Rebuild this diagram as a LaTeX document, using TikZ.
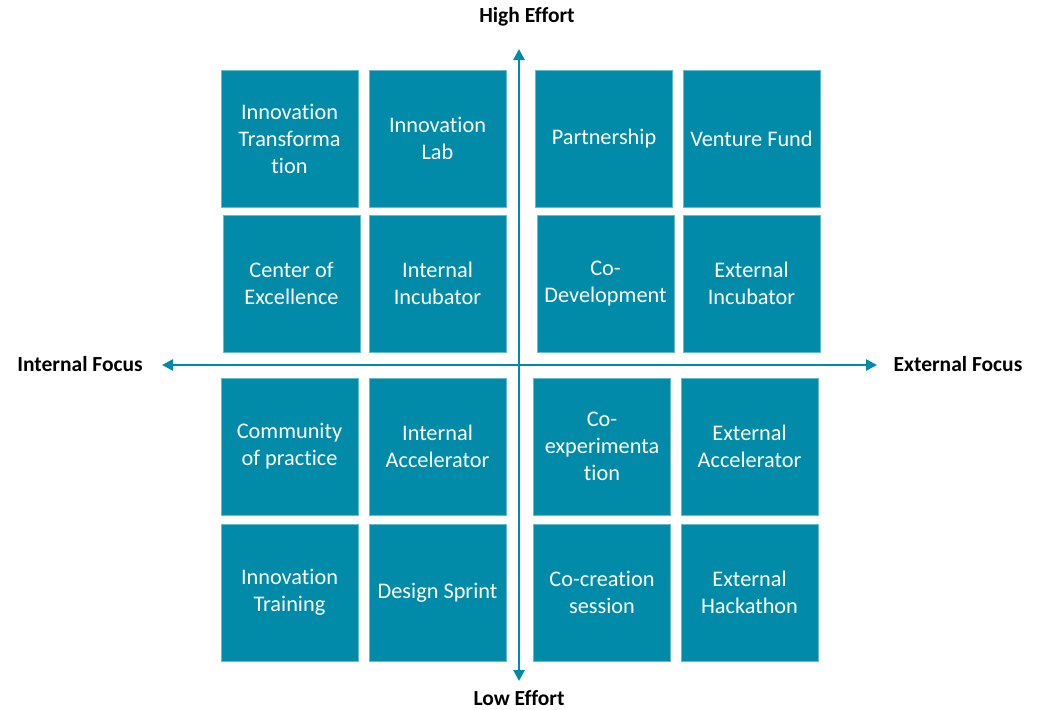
\documentclass[tikz,border=0pt]{standalone}
\usepackage{fontspec}
\setmainfont{Carlito}[Ligatures=NoCommon]
\usepackage{tikz}
\usetikzlibrary{arrows.meta,positioning}
\definecolor{teal}{RGB}{2,139,169}
\tikzstyle{cell}=[fill=teal,draw=teal!60!white,line width=0.6pt,minimum width=137pt,minimum height=137pt,inner sep=0pt,text=white,align=center,font=\fontsize{22.3}{27}\selectfont]
\tikzstyle{axis}=[draw=teal,line width=2.6pt,{Triangle[length=11pt,width=11pt]}-{Triangle[length=11pt,width=11pt]}]
\tikzstyle{axislabel}=[font=\fontsize{21.5}{25}\selectfont\bfseries,inner sep=0pt]

\begin{document}
\begin{tikzpicture}[x=1pt,y=-1pt]
        \useasboundingbox (0,0) rectangle (1040,709);
        % upper half
        \node[cell] (transf) at (289.5,138.5) {Innovation\\Transforma\\tion};
        \node[cell] (lab) at (437.5,138.5) {Innovation\\Lab};
        \node[cell] (partner) at (604,138.5) {Partnership};
        \node[cell] (fund) at (751.5,138.5) {Venture Fund};
        \node[cell] (coe) at (291.5,283.5) {Center of\\Excellence};
        \node[cell] (intinc) at (437.5,283.5) {Internal\\Incubator};
        \node[cell] (codev) at (605.5,283.5) {Co-\\Development};
        \node[cell] (extinc) at (751.5,283.5) {External\\Incubator};
        % lower half
        \node[cell] (cop) at (289.5,446.5) {Community\\of practice};
        \node[cell] (intacc) at (437.5,446.5) {Internal\\Accelerator};
        \node[cell] (coexp) at (602,446.5) {Co-\\experimenta\\tion};
        \node[cell] (extacc) at (749.5,446.5) {External\\Accelerator};
        \node[cell] (training) at (289.5,592.5) {Innovation\\Training};
        \node[cell] (sprint) at (437.5,592.5) {Design Sprint};
        \node[cell] (cocreate) at (602,592.5) {Co-creation\\session};
        \node[cell] (hack) at (749.5,592.5) {External\\Hackathon};
        % axes
        \coordinate (top) at (519,49);
        \coordinate (bottom) at (519,681);
        \coordinate (left) at (162,365);
        \coordinate (right) at (877,365);
        \draw[axis] (bottom) -- (top);
        \draw[axis] (left) -- (right);
        \node[axislabel] (high) at (527,17) {High Effort};
        \node[axislabel] (low) at (519,698) {Low Effort};
        \node[axislabel] (internal) at (80,364) {Internal Focus};
        \node[axislabel] (external) at (958,364) {External Focus};
      \end{tikzpicture}
\end{document}
